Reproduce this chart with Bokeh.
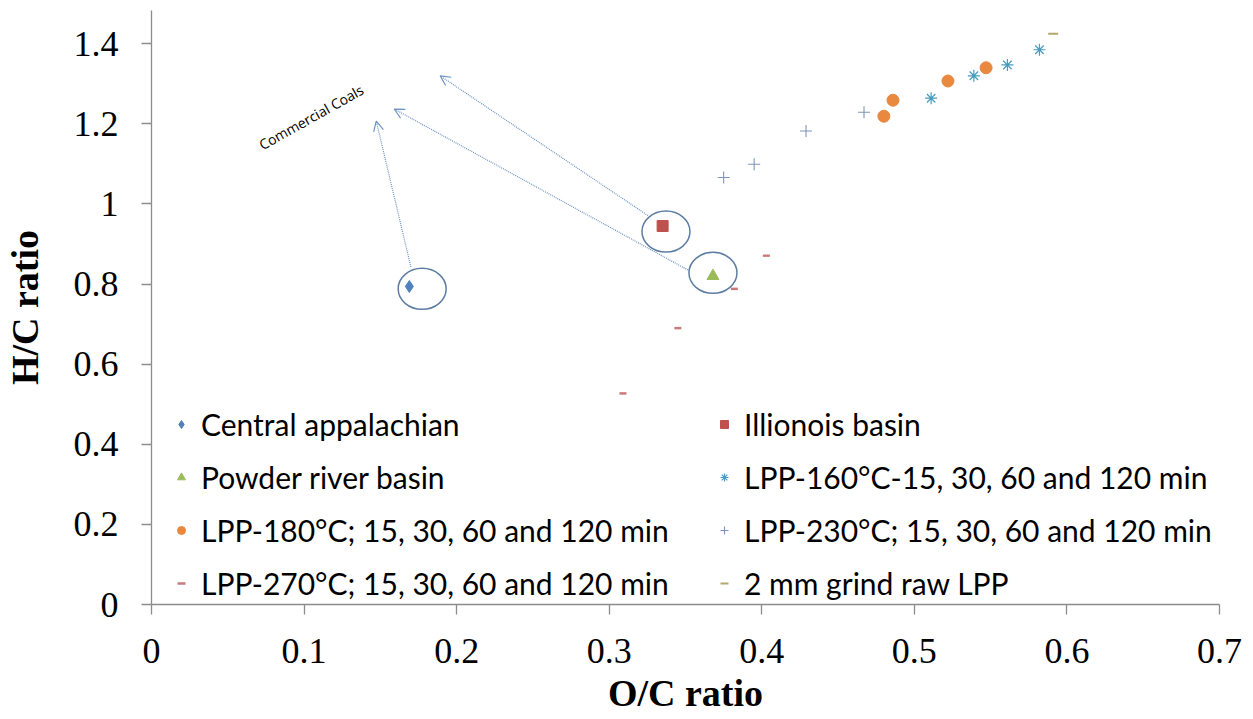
from bokeh.plotting import figure
from bokeh.models import (Range1d, FixedTicker, NumeralTickFormatter, Legend, LegendItem,
                          Arrow, OpenHead)
from bokeh.core.properties import value
from bokeh.embed import file_html
from bokeh.resources import INLINE

# ---- data ----
central_x = [0.169]
central_y = [0.794]
illinois_x = [0.335]
illinois_y = [0.945]
powder_x = [0.368]
powder_y = [0.820]
lpp160_x = [0.511, 0.539, 0.561, 0.582]
lpp160_y = [1.264, 1.320, 1.347, 1.385]
lpp180_x = [0.480, 0.486, 0.522, 0.547]
lpp180_y = [1.219, 1.259, 1.307, 1.340]
lpp230_x = [0.375, 0.395, 0.429, 0.467]
lpp230_y = [1.066, 1.099, 1.182, 1.229]
lpp270_x = [0.309, 0.345, 0.382, 0.403]
lpp270_y = [0.527, 0.690, 0.788, 0.871]
raw_x = [0.591]
raw_y = [1.425]

series_names = ["Central appalachian", "Illionois basin", "Powder river basin",
                "LPP-160°C-15, 30, 60 and 120 min", "LPP-180°C; 15, 30, 60 and 120 min",
                "LPP-230°C; 15, 30, 60 and 120 min", "LPP-270°C; 15, 30, 60 and 120 min",
                "2 mm grind raw LPP"]

x_ticks = [0, 0.1, 0.2, 0.3, 0.4, 0.5, 0.6, 0.7]
y_ticks = [0, 0.2, 0.4, 0.6, 0.8, 1.0, 1.2, 1.4]

# annotation: circled points and arrows to the "Commercial Coals" label
circle_x = [0.1774, 0.3372, 0.368]
circle_y = [0.788, 0.931, 0.828]
arrow_start_x = [0.170, 0.3516, 0.3254]
arrow_start_y = [0.843, 0.835, 0.971]
arrow_end_x = [0.1473, 0.1591, 0.1892]
arrow_end_y = [1.207, 1.237, 1.320]
label_text = "Commercial Coals"
label_x = 0.1047
label_y = 1.217

# ---- figure ----
p = figure(width=1245, height=716, output_backend="svg", toolbar_location=None,
           x_range=Range1d(0, 0.7), y_range=Range1d(0, 1.483),
           min_border_left=150, min_border_right=26, min_border_top=10, min_border_bottom=10)
p.outline_line_color = None
p.grid.visible = False
p.background_fill_color = "white"

for ax in (p.xaxis[0], p.yaxis[0]):
    ax.axis_line_color = "#8c8c8c"
    ax.axis_line_width = 1.3
    ax.major_tick_line_color = "#8c8c8c"
    ax.major_tick_line_width = 1.3
    ax.major_tick_in = 0
    ax.major_tick_out = 10
    ax.minor_tick_line_color = None
    ax.major_label_text_font = "Liberation Serif"
    ax.major_label_text_font_size = "36px"
    ax.major_label_text_color = "black"
    ax.axis_label_text_font = "Liberation Serif"
    ax.axis_label_text_font_style = "bold"
    ax.axis_label_text_font_size = "38px"
    ax.axis_label_text_color = "black"
    ax.formatter = NumeralTickFormatter(format="0.[0]")

p.xaxis.ticker = FixedTicker(ticks=x_ticks)
p.yaxis.ticker = FixedTicker(ticks=y_ticks)
p.xaxis.axis_label = "O/C ratio"
p.yaxis.axis_label = "H/C ratio"
p.xaxis.major_label_standoff = 24
p.yaxis.major_label_standoff = 23
p.xaxis.axis_label_standoff = 6
p.yaxis.axis_label_standoff = 25

# ---- series ----
r_central = p.scatter(central_x, central_y, marker="diamond", size=12,
                      fill_color="#4F81BD", line_color="#4F81BD")
r_illinois = p.scatter(illinois_x, illinois_y, marker="square", size=11,
                       fill_color="#C0504D", line_color="#C0504D")
r_powder = p.scatter(powder_x, powder_y, marker="triangle", size=12,
                     fill_color="#9BBB59", line_color="#9BBB59")
r_160 = p.scatter(lpp160_x, lpp160_y, marker="asterisk", size=12,
                  line_color="#4A9BBE", line_width=1.2)
r_180 = p.scatter(lpp180_x, lpp180_y, marker="circle", size=12,
                  fill_color="#E9893F", line_color="#E9893F")
r_230 = p.scatter(lpp230_x, lpp230_y, marker="cross", size=12,
                  line_color="#7F95B5", line_width=1.1)
r_270 = p.scatter(lpp270_x, lpp270_y, marker="dash", size=7,
                  line_color="#C97A7A", line_width=2.5)
r_raw = p.scatter(raw_x, raw_y, marker="dash", size=10,
                  line_color="#B3A86E", line_width=2)

# ---- annotations ----
p.ellipse(circle_x, circle_y, width=48, height=41, width_units="screen", height_units="screen",
          fill_color=None, line_color="#5E7DA3", line_width=1.5)
for sx, sy, ex, ey in zip(arrow_start_x, arrow_start_y, arrow_end_x, arrow_end_y):
    p.add_layout(Arrow(x_start=sx, y_start=sy, x_end=ex, y_end=ey,
                       line_color="#6D93C4", line_width=1.2, line_dash="1 1",
                       end=OpenHead(size=10, line_color="#6D93C4", line_width=1.2)))
p.text(x=[label_x], y=[label_y], text=[label_text], angle=0.51,
       text_font=value("Open Sans"), text_font_size="14px", text_color="black",
       text_align="center", text_baseline="middle")

# ---- legends (two columns) ----
renderers = [r_central, r_illinois, r_powder, r_160, r_180, r_230, r_270, r_raw]
left_items = [LegendItem(label=series_names[i], renderers=[renderers[i]]) for i in (0, 2, 4, 6)]
right_items = [LegendItem(label=series_names[i], renderers=[renderers[i]]) for i in (1, 3, 5, 7)]
for items, loc in ((left_items, (20, 1)), (right_items, (563, 1))):
    lg = Legend(items=items, location=loc, margin=0, padding=0, spacing=13,
                glyph_width=20, glyph_height=40, label_height=40, label_standoff=10,
                label_text_font="Lato", label_text_font_size="30px",
                label_text_color="black", background_fill_alpha=0, border_line_alpha=0)
    p.add_layout(lg)

open("out.html", "w").write(file_html(p, INLINE))
